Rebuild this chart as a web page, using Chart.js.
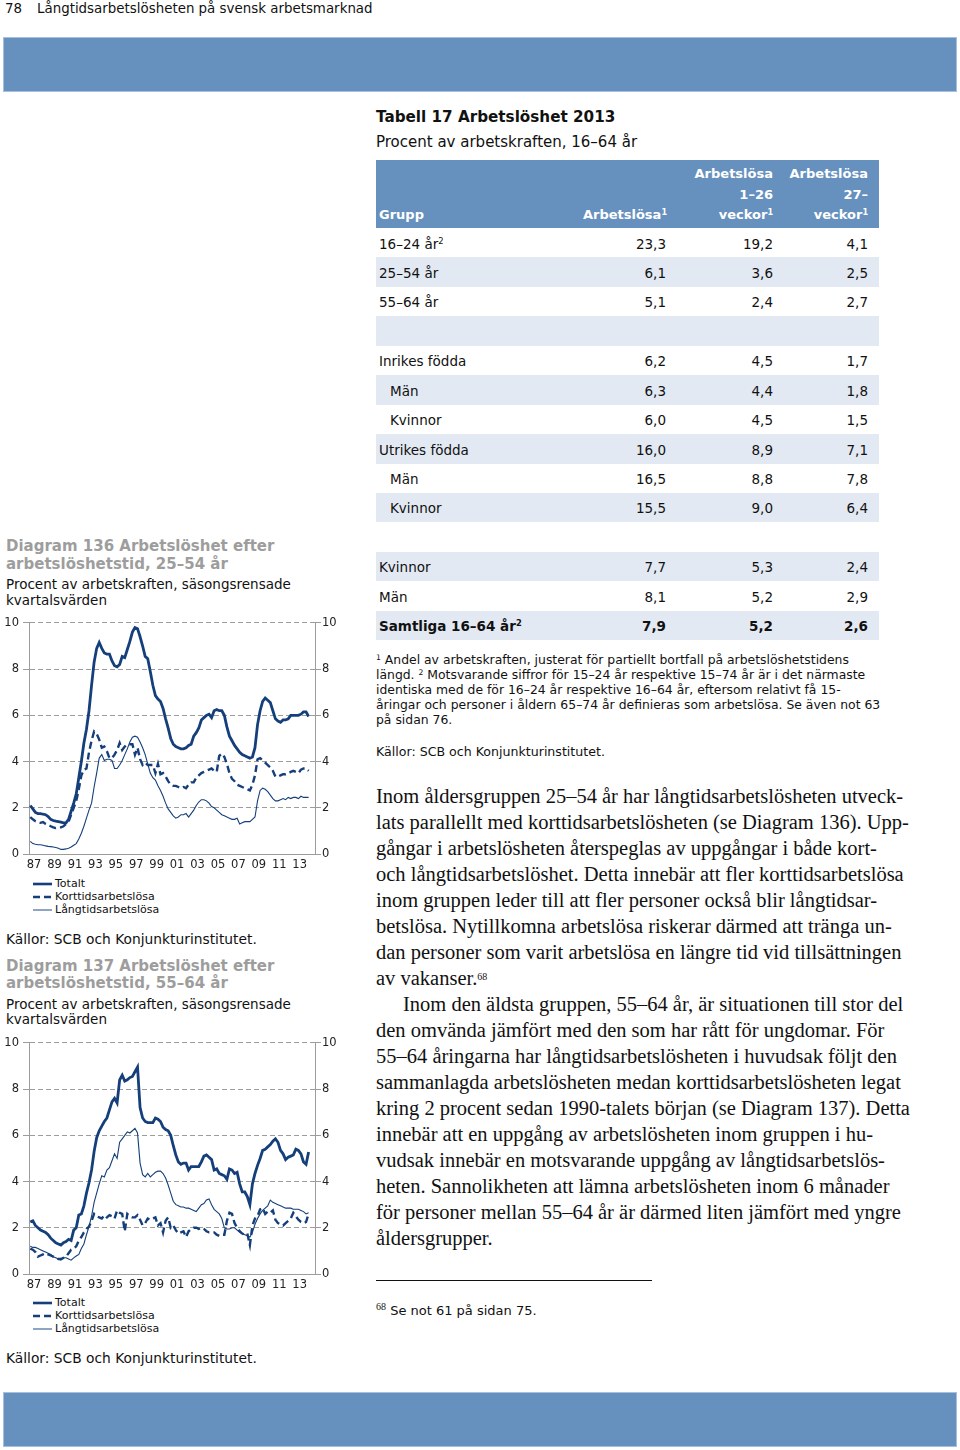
<!DOCTYPE html>
<html lang="sv">
<head>
<meta charset="utf-8">
<script src="https://cdn.jsdelivr.net/npm/chart.js@4.4.1/dist/chart.umd.min.js"></script>
<style>
  html, body { margin: 0; padding: 0; background: #fff; }
  #page { position: relative; width: 960px; height: 1450px; overflow: hidden;
          font-family: "DejaVu Sans", Verdana, sans-serif; color: #111; }
  .abs { position: absolute; white-space: nowrap; }
  .bar { position: absolute; left: 3px; width: 954px; height: 55px; background: #6690bd;
         border: 1px solid #a8c0dc; box-sizing: border-box; }
  sup { font-size: 0.62em; line-height: 0; vertical-align: 0.55em; }

  .dtitle { font-weight: bold; font-size: 15px; line-height: 17.5px; color: #9d9d9d; left: 6px; }
  .dsub { font-size: 13.5px; line-height: 15.5px; left: 6px; }
  .src { font-size: 13.8px; line-height: 16px; left: 6px; }
  .legend { left: 33px; font-size: 11px; line-height: 13.3px; }
  .legend svg { vertical-align: middle; margin-right: 3px; }

  #thead { position: absolute; left: 376px; top: 160px; width: 503px; height: 68px;
           background: #6690bd; color: #fff; font-weight: bold; font-size: 13px; }
  #thead div { position: absolute; bottom: 2px; line-height: 20.7px; text-align: right; white-space: nowrap; }
  #tbody { position: absolute; left: 376px; top: 228px; width: 503px; font-size: 13.5px; }
  .tr { position: relative; height: 29.45px; line-height: 29.45px; }
  .tr span { position: absolute; top: 1.5px; white-space: nowrap; }
  .alt { background: #e3e9f3; }
  .c0 { left: 3px; }
  .ind .c0 { left: 14px; }
  .c1 { right: 213px; }
  .c2 { right: 106px; }
  .c3 { right: 11px; }
  .bold { font-weight: bold; }

  #body { left: 376px; top: 783px; font-family: "Liberation Serif", "Times New Roman", serif;
          font-size: 20.5px; line-height: 26px; color: #111; }
</style>
</head>
<body>
<div id="page">

  <div class="abs" style="left:5px;top:1px;font-size:13.4px;line-height:16px;">78</div>
  <div class="abs" style="left:37px;top:1px;font-size:13.4px;line-height:16px;">Långtidsarbetslösheten på svensk arbetsmarknad</div>
  <div class="bar" style="top:37px;"></div>

  <!-- Tabell 17 -->
  <div class="abs" style="left:376px;top:108px;font-size:15.2px;line-height:18px;font-weight:bold;">Tabell 17 Arbetslöshet 2013</div>
  <div class="abs" style="left:376px;top:133px;font-size:15px;line-height:18px;">Procent av arbetskraften, 16–64 år</div>
  <div id="thead">
    <div style="left:3px;">Grupp</div>
    <div style="right:212px;">Arbetslösa<sup>1</sup></div>
    <div style="right:106px;">Arbetslösa<br>1–26<br>veckor<sup>1</sup></div>
    <div style="right:11px;">Arbetslösa<br>27–<br>veckor<sup>1</sup></div>
  </div>
  <div id="tbody">
    <div class="tr"><span class="c0">16–24 år<sup>2</sup></span><span class="c1">23,3</span><span class="c2">19,2</span><span class="c3">4,1</span></div>
    <div class="tr alt"><span class="c0">25–54 år</span><span class="c1">6,1</span><span class="c2">3,6</span><span class="c3">2,5</span></div>
    <div class="tr"><span class="c0">55–64 år</span><span class="c1">5,1</span><span class="c2">2,4</span><span class="c3">2,7</span></div>
    <div class="tr alt"></div>
    <div class="tr"><span class="c0">Inrikes födda</span><span class="c1">6,2</span><span class="c2">4,5</span><span class="c3">1,7</span></div>
    <div class="tr alt ind"><span class="c0">Män</span><span class="c1">6,3</span><span class="c2">4,4</span><span class="c3">1,8</span></div>
    <div class="tr ind"><span class="c0">Kvinnor</span><span class="c1">6,0</span><span class="c2">4,5</span><span class="c3">1,5</span></div>
    <div class="tr alt"><span class="c0">Utrikes födda</span><span class="c1">16,0</span><span class="c2">8,9</span><span class="c3">7,1</span></div>
    <div class="tr ind"><span class="c0">Män</span><span class="c1">16,5</span><span class="c2">8,8</span><span class="c3">7,8</span></div>
    <div class="tr alt ind"><span class="c0">Kvinnor</span><span class="c1">15,5</span><span class="c2">9,0</span><span class="c3">6,4</span></div>
    <div class="tr"></div>
    <div class="tr alt"><span class="c0">Kvinnor</span><span class="c1">7,7</span><span class="c2">5,3</span><span class="c3">2,4</span></div>
    <div class="tr"><span class="c0">Män</span><span class="c1">8,1</span><span class="c2">5,2</span><span class="c3">2,9</span></div>
    <div class="tr alt bold"><span class="c0">Samtliga 16–64 år<sup>2</sup></span><span class="c1">7,9</span><span class="c2">5,2</span><span class="c3">2,6</span></div>
  </div>
  <div class="abs" style="left:376px;top:651.5px;font-size:12.4px;line-height:15px;">
    <sup>1</sup> Andel av arbetskraften, justerat för partiellt bortfall på arbetslöshetstidens<br>
    längd. <sup>2</sup> Motsvarande siffror för 15–24 år respektive 15–74 år är i det närmaste<br>
    identiska med de för 16–24 år respektive 16–64 år, eftersom relativt få 15-<br>
    åringar och personer i åldern 65–74 år definieras som arbetslösa. Se även not 63<br>
    på sidan 76.
  </div>
  <div class="abs" style="left:376px;top:743.5px;font-size:12.6px;line-height:15px;">Källor: SCB och Konjunkturinstitutet.</div>

  <!-- brödtext -->
  <div id="body" class="abs">
    Inom åldersgruppen 25–54 år har långtidsarbetslösheten utveck-<br>
    lats parallellt med korttidsarbetslösheten (se Diagram 136). Upp-<br>
    gångar i arbetslösheten återspeglas av uppgångar i både kort-<br>
    och långtidsarbetslöshet. Detta innebär att fler korttidsarbetslösa<br>
    inom gruppen leder till att fler personer också blir långtidsar-<br>
    betslösa. Nytillkomna arbetslösa riskerar därmed att tränga un-<br>
    dan personer som varit arbetslösa en längre tid vid tillsättningen<br>
    av vakanser.<sup style="font-size:10px;">68</sup><br>
    <span style="padding-left:27px;">Inom den äldsta gruppen, 55–64 år, är situationen till stor del</span><br>
    den omvända jämfört med den som har rått för ungdomar. För<br>
    55–64 åringarna har långtidsarbetslösheten i huvudsak följt den<br>
    sammanlagda arbetslösheten medan korttidsarbetslösheten legat<br>
    kring 2 procent sedan 1990-talets början (se Diagram 137). Detta<br>
    innebär att en uppgång av arbetslösheten inom gruppen i hu-<br>
    vudsak innebär en motsvarande uppgång av långtidsarbetslös-<br>
    heten. Sannolikheten att lämna arbetslösheten inom 6 månader<br>
    för personer mellan 55–64 år är därmed liten jämfört med yngre<br>
    åldersgrupper.
  </div>
  <div class="abs" style="left:376px;top:1280px;width:276px;height:1px;background:#111;"></div>
  <div class="abs" style="left:376px;top:1303px;font-size:13px;line-height:16px;"><sup style="font-family:'Liberation Serif',serif;font-size:10px;">68</sup> Se not 61 på sidan 75.</div>

  <!-- Diagram 136 -->
  <div class="abs dtitle" style="top:538px;">Diagram 136 Arbetslöshet efter<br>arbetslöshetstid, 25–54 år</div>
  <div class="abs dsub" style="top:577px;">Procent av arbetskraften, säsongsrensade<br>kvartalsvärden</div>
  <canvas id="c136" width="345" height="262" style="position:absolute;left:0;top:612px;"></canvas>
  <div class="abs legend" style="top:876.5px;" id="leg136"></div>
  <div class="abs src" style="top:931px;">Källor: SCB och Konjunkturinstitutet.</div>

  <!-- Diagram 137 -->
  <div class="abs dtitle" style="top:957.5px;">Diagram 137 Arbetslöshet efter<br>arbetslöshetstid, 55–64 år</div>
  <div class="abs dsub" style="top:996.5px;">Procent av arbetskraften, säsongsrensade<br>kvartalsvärden</div>
  <canvas id="c137" width="345" height="262" style="position:absolute;left:0;top:1032px;"></canvas>
  <div class="abs legend" style="top:1295.5px;" id="leg137"></div>
  <div class="abs src" style="top:1350px;">Källor: SCB och Konjunkturinstitutet.</div>

  <div class="bar" style="top:1392px;"></div>
</div>

<script>
// kvartalsdata, 1987 kv1 – 2014 kv2
const tickYears   = [1987, 1989, 1991, 1993, 1995, 1997, 1999, 2001, 2003, 2005, 2007, 2009, 2011, 2013];
const seriesNames = ["Totalt", "Korttidsarbetslösa", "Långtidsarbetslösa"];

// Diagram 136, 25–54 år
const totalt136 = [
  2.1, 1.95, 1.8, 1.75,   1.75, 1.72, 1.7, 1.62,   1.5, 1.45, 1.42, 1.4,   1.38, 1.35, 1.35, 1.5,
  1.85, 2.2, 2.6, 3.3,    4.0, 4.8, 5.4, 6.2,      7.3, 8.3, 8.9, 9.15,    8.9, 8.7, 8.65, 8.65,
  8.35, 8.15, 8.1, 8.2,   8.55, 8.5, 8.85, 9.2,    9.6, 9.8, 9.75, 9.4,    9.0, 8.55, 8.45, 7.9,
  7.3, 6.85, 6.7, 6.6,    6.3, 5.85, 5.45, 5.0,    4.75, 4.65, 4.6, 4.55,  4.55, 4.6, 4.7, 4.75,
  5.1, 5.25, 5.45, 5.8,   5.9, 6.0, 6.05, 5.9,     6.2, 6.25, 6.2, 6.2,    6.0, 5.5, 5.1, 4.9,
  4.7, 4.55, 4.4, 4.3,    4.25, 4.2, 4.15, 4.2,    4.6, 5.6, 6.2, 6.6,     6.75, 6.65, 6.55, 6.2,
  5.85, 5.75, 5.7, 5.8,   5.8, 5.85, 6.0, 6.0,     6.0, 6.0, 6.05, 6.15,   6.15, 5.95
];
const kort136 = [
  1.6, 1.5, 1.42, 1.38,   1.35, 1.38, 1.3, 1.25,   1.2, 1.15, 1.12, 1.15,  1.15, 1.2, 1.3, 1.4,
  1.7, 2.0, 2.3, 2.8,     3.4, 3.65, 3.7, 4.4,     4.9, 5.3, 5.2, 4.95,    4.6, 4.65, 4.45, 4.15,
  4.15, 4.3, 4.5, 4.8,    4.5, 4.65, 4.75, 4.75,   4.75, 4.3, 4.6, 4.1,    3.85, 3.95, 3.85, 3.85,
  3.85, 3.5, 3.9, 3.45,   3.5, 3.35, 3.15, 3.0,    2.95, 2.95, 2.9, 2.85,  2.9, 2.85, 3.0, 3.1,
  3.1, 3.3, 3.4, 3.5,     3.55, 3.6, 3.65, 3.7,    3.6, 3.55, 4.25, 4.35,  4.2, 3.9, 3.5, 3.25,
  3.15, 3.0, 2.95, 2.9,   2.85, 2.8, 2.75, 3.0,    3.4, 4.1, 4.15, 4.05,   3.95, 3.85, 3.75, 3.6,
  3.35, 3.35, 3.4, 3.45,  3.45, 3.5, 3.55, 3.6,    3.55, 3.5, 3.65, 3.7,   3.7, 3.6
];
const lang136 = [
  0.55, 0.45, 0.42, 0.4,  0.4, 0.38, 0.35, 0.33,   0.32, 0.3, 0.28, 0.25,  0.2, 0.2, 0.22, 0.25,
  0.3, 0.38, 0.45, 0.65,  0.9, 1.2, 1.55, 1.9,     2.2, 2.9, 3.5, 4.15,    4.3, 4.05, 4.1, 4.1,
  4.05, 3.7, 3.7, 3.85,   4.05, 4.3, 4.55, 4.85,   5.05, 5.1, 5.05, 4.85,  4.6, 4.3, 3.9, 3.5,
  3.3, 3.2, 2.95, 2.75,   2.5, 2.2, 1.95, 1.8,     1.65, 1.55, 1.6, 1.7,   1.7, 1.75, 1.6, 1.75,
  1.9, 2.1, 2.25, 2.35,   2.35, 2.3, 2.2, 2.05,    2.0, 1.9, 1.8, 1.7,     1.65, 1.6, 1.55, 1.5,
  1.5, 1.55, 1.3, 1.35,   1.4, 1.4, 1.4, 1.5,      1.6, 2.3, 2.75, 2.85,   2.8, 2.7, 2.55, 2.4,
  2.3, 2.3, 2.35, 2.4,    2.35, 2.45, 2.4, 2.45,   2.45, 2.4, 2.5, 2.45,   2.45, 2.45
];

// Diagram 137, 55–64 år
const totalt137 = [
  2.25, 2.3, 2.1, 2.0,    1.9, 1.85, 1.8, 1.7,     1.55, 1.45, 1.35, 1.3,  1.25, 1.35, 1.4, 1.5,
  1.45, 1.9, 2.0, 2.55,   2.6, 2.95, 3.5, 3.95,    4.5, 5.3, 5.9, 6.2,     6.4, 6.6, 6.75, 7.1,
  7.45, 7.6, 7.4, 8.4,    8.6, 8.35, 8.4, 8.5,     8.55, 8.75, 8.95, 7.2,  6.75, 6.6, 6.55, 6.55,
  6.55, 6.75, 6.7, 6.6,   6.35, 6.25, 6.2, 6.0,    5.55, 5.15, 4.85, 4.75, 4.8, 4.8, 4.5, 4.65,
  4.65, 4.65, 4.65, 4.85, 5.1, 5.15, 5.05, 4.95,   4.5, 4.55, 4.35, 4.3,   4.25, 4.1, 4.55, 4.5,
  4.35, 4.4, 3.9, 3.55,   3.55, 3.35, 3.0, 3.9,    4.35, 4.7, 5.0, 5.35,   5.4, 5.5, 5.6, 5.75,
  5.85, 5.7, 5.35, 5.2,   4.95, 5.05, 5.1, 5.15,   5.4, 5.35, 5.2, 4.85,   4.75, 5.28
];
const kort137 = [
  1.1, 1.05, 0.95, 0.75,  0.8, 0.85, 0.9, 0.85,    0.8, 0.75, 0.7, 0.65,   0.65, 0.7, 0.75, 0.9,
  1.05, 1.1, 1.2, 1.45,   1.6, 1.8, 1.95, 2.05,    2.3, 2.6, 2.5, 2.45,    2.4, 2.55, 2.45, 2.55,
  2.5, 2.4, 2.75, 2.65,   2.6, 1.85, 2.6, 2.5,     2.45, 2.45, 2.55, 2.35, 2.1, 2.2, 2.4, 2.35,
  2.4, 2.45, 2.1, 2.2,    1.8, 2.3, 2.45, 2.0,     2.1, 1.9, 1.75, 1.8,    1.85, 1.6, 1.85, 1.95,
  2.0, 2.0, 1.95, 2.0,    1.95, 1.85, 1.8, 1.8,    1.8, 1.7, 1.65, 1.7,    1.7, 2.3, 2.65, 2.6,
  2.2, 2.0, 1.85, 1.75,   1.7, 1.75, 1.25, 2.1,    2.4, 2.5, 2.8, 2.85,    2.6, 2.7, 2.65, 2.75,
  2.35, 2.2, 2.15, 2.1,   2.2, 2.3, 2.4, 2.65,     2.5, 2.35, 2.25, 2.2,   2.25, 2.6
];
const lang137 = [
  1.2, 1.15, 1.15, 1.1,   1.05, 1.0, 0.95, 0.9,    0.85, 0.75, 0.7, 0.65,  0.6, 0.7, 0.7, 0.65,
  0.6, 0.7, 0.78, 0.85,   1.1, 1.3, 1.7, 2.05,     2.5, 3.1, 3.5, 3.9,     4.25, 4.2, 4.5, 4.6,
  4.9, 5.2, 5.0, 5.7,     5.85, 6.0, 6.15, 6.1,    6.2, 6.3, 6.1, 4.8,     4.3, 4.2, 4.35, 4.2,
  4.3, 4.4, 4.45, 4.45,   4.35, 4.15, 3.85, 3.5,   3.15, 3.0, 2.95, 2.9,   2.9, 2.85, 2.85, 2.8,
  2.75, 2.7, 2.85, 3.0,   3.05, 3.2, 3.25, 3.0,    2.8, 2.7, 2.6, 2.4,     2.0, 1.95, 1.95, 2.0,
  2.0, 1.9, 1.8, 1.75,    1.7, 1.65, 1.6, 1.8,     2.15, 2.4, 2.6, 2.75,   2.85, 2.95, 3.2, 3.1,
  3.05, 3.0, 2.95, 2.9,   2.85, 2.85, 2.85, 2.8,   2.8, 2.8, 2.75, 2.7,    2.6, 2.65
];

const navy = "#143f7b";
const gridGrey = "#9c9c9c";
const tickFont = { family: "DejaVu Sans", size: 11.5 };

// kvartal i mitten av sitt intervall
function toPoints(values) {
  return values.map((v, i) => ({ x: 1987 + (i + 0.5) / 4, y: v }));
}

function makeChart(id, totalt, kort, lang) {
  const ctx = document.getElementById(id).getContext("2d");
  return new Chart(ctx, {
    type: "line",
    data: {
      datasets: [
        { label: seriesNames[0], data: toPoints(totalt), borderColor: navy, borderWidth: 2.8 },
        { label: seriesNames[1], data: toPoints(kort),   borderColor: navy, borderWidth: 2.4, borderDash: [7, 4] },
        { label: seriesNames[2], data: toPoints(lang),   borderColor: navy, borderWidth: 1.1 }
      ]
    },
    options: {
      responsive: false,
      animation: false,
      events: [],
      elements: { point: { radius: 0 }, line: { tension: 0 } },
      layout: { padding: { top: 10, left: 0, right: 0, bottom: 0 } },
      plugins: { legend: { display: false }, tooltip: { enabled: false } },
      scales: {
        x: {
          type: "linear",
          min: 1987,
          max: 2015,
          afterBuildTicks: axis => { axis.ticks = tickYears.map(y => ({ value: y + 0.5 })); },
          afterFit: axis => { axis.height = 20; },
          grid: { display: false, drawTicks: false, tickLength: 0 },
          border: { display: true, color: gridGrey },
          ticks: {
            autoSkip: false, maxRotation: 0, padding: 4, color: "#222", font: tickFont,
            callback: v => String(Math.floor(v)).slice(2)
          }
        },
        y: {
          position: "left",
          min: 0, max: 10,
          afterFit: axis => { axis.width = 29; },
          grid: { color: gridGrey, tickLength: 6, lineWidth: 1 },
          border: { color: gridGrey, dash: [5, 3] },
          ticks: { stepSize: 2, padding: 4, color: "#222", font: tickFont }
        },
        y2: {
          position: "right",
          min: 0, max: 10,
          afterFit: axis => { axis.width = 30; },
          grid: { drawOnChartArea: false, color: gridGrey, tickLength: 6 },
          border: { color: gridGrey },
          ticks: { stepSize: 2, padding: 1, color: "#222", font: tickFont }
        }
      }
    }
  });
}

function makeLegend(id) {
  const samples = [
    '<line x1="0" y1="5" x2="19" y2="5" stroke="' + navy + '" stroke-width="2.6"/>',
    '<line x1="0" y1="5" x2="19" y2="5" stroke="' + navy + '" stroke-width="2.3" stroke-dasharray="7 4"/>',
    '<line x1="0" y1="5" x2="19" y2="5" stroke="#4f74a3" stroke-width="1.3"/>'
  ];
  document.getElementById(id).innerHTML = seriesNames.map((name, i) =>
    '<div><svg width="19" height="10">' + samples[i] + '</svg>' + name + '</div>'
  ).join("");
}

makeChart("c136", totalt136, kort136, lang136);
makeChart("c137", totalt137, kort137, lang137);
makeLegend("leg136");
makeLegend("leg137");
</script>
</body>
</html>
